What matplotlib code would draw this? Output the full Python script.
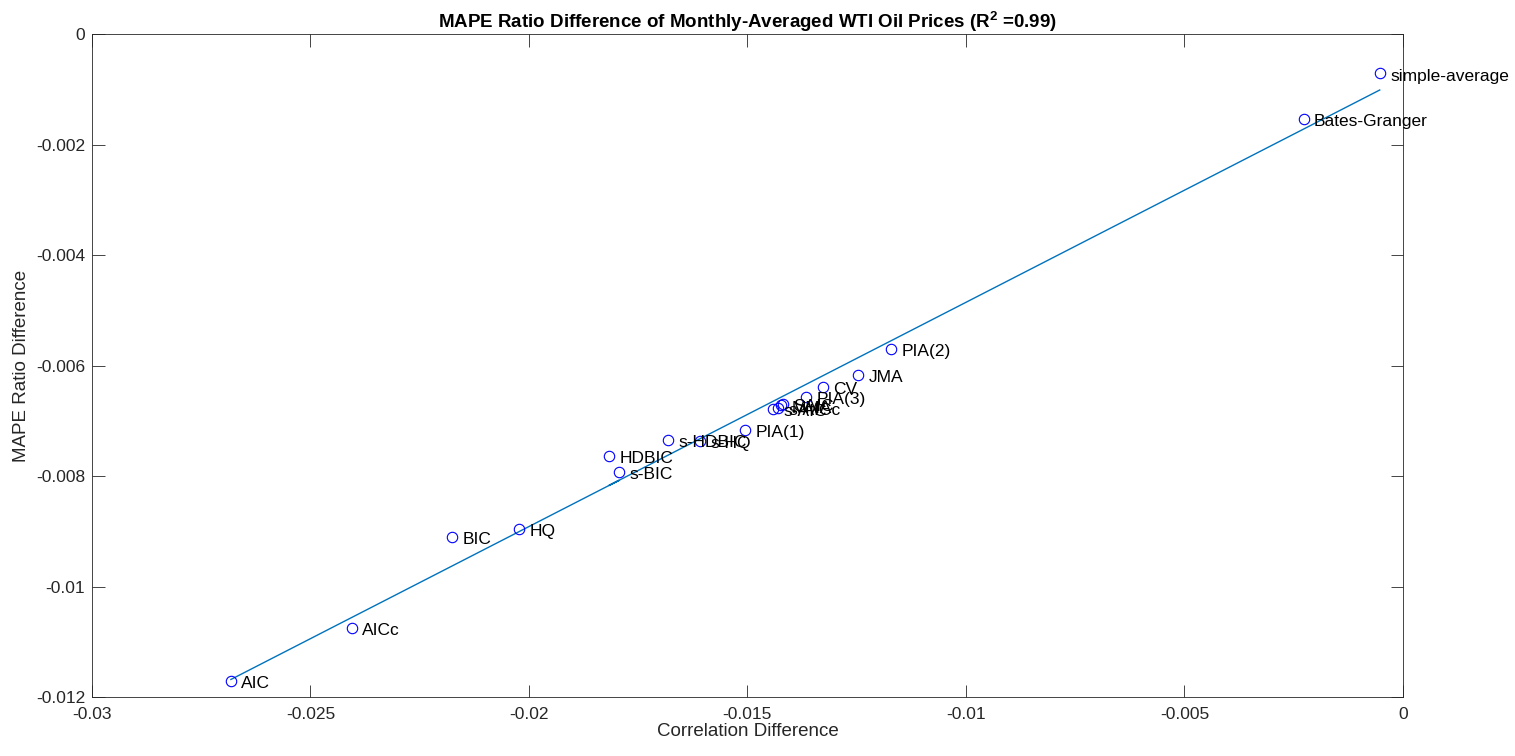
import matplotlib
matplotlib.use("Agg")
import matplotlib.pyplot as plt
import numpy as np

plt.rcParams["font.family"] = ["Liberation Sans", "DejaVu Sans"]
plt.rcParams["mathtext.fontset"] = "custom"
plt.rcParams["mathtext.rm"] = "Liberation Sans"
plt.rcParams["mathtext.bf"] = "Liberation Sans:bold"

# ── Data ─────────────────────────────────────────────────────────────────────
methods = ["AIC", "AICc", "BIC", "HQ", "s-BIC", "HDBIC", "s-HDBIC", "s-HQ",
           "PIA(1)", "s-AIC", "s-AICc", "MMA", "SAIC", "PIA(3)", "CV", "JMA",
           "PIA(2)", "Bates-Granger", "simple-average"]
corr_diff = [-0.02682, -0.02405, -0.02176, -0.02023, -0.01794, -0.01817,
             -0.01682, -0.01609, -0.01506, -0.01442, -0.01430, -0.01423,
             -0.01419, -0.01366, -0.01327, -0.01247, -0.01172, -0.00227,
             -0.00053]
mape_diff = [-0.01171, -0.01075, -0.00910, -0.00896, -0.00793, -0.00764,
             -0.00735, -0.00737, -0.00717, -0.00679, -0.00677, -0.00672,
             -0.00670, -0.00657, -0.00639, -0.00617, -0.00570, -0.00154,
             -0.00071]
r2_text = "0.99"

x = np.array(corr_diff)
y = np.array(mape_diff)
coef = np.polyfit(x, y, 1)
yfit = np.polyval(coef, x)

fig = plt.figure(figsize=(15.15, 7.56), dpi=100)
ax = fig.add_axes([0.0607, 0.078, 0.8653, 0.877])

ax.plot(x, yfit, color="#0072BD", lw=1.0, zorder=2)
ax.plot(x, y, "o", mfc="none", mec="#0000FF", ms=7.5, mew=0.8, zorder=3)

for xi, yi, name in zip(x, y, methods):
    ax.annotate(name, (xi, yi), xytext=(7.5, -2), textcoords="offset points",
                ha="left", va="center", fontsize=12.5, color="black")

ax.set_xlim(-0.03, 0)
ax.set_ylim(-0.012, 0)
ax.set_xticks(np.arange(-0.03, 0.0001, 0.005))
ax.set_yticks(np.arange(-0.012, 0.0001, 0.002))
ax.set_xticklabels([f"{v:g}" if abs(v) > 1e-12 else "0" for v in ax.get_xticks()])
ax.set_yticklabels([f"{v:g}" if abs(v) > 1e-12 else "0" for v in ax.get_yticks()])
ax.tick_params(direction="in", top=True, right=True, length=9, width=0.6,
               labelsize=12.5, colors="#262626")
ax.tick_params(axis="x", pad=7)
ax.tick_params(axis="y", pad=5)
for s in ax.spines.values():
    s.set_linewidth(0.6)
    s.set_color("#262626")

ax.set_xlabel("Correlation Difference", fontsize=13.5, color="#262626", labelpad=1)
ax.set_ylabel("MAPE Ratio Difference", fontsize=13.5, color="#262626", labelpad=4)
ax.set_title("MAPE Ratio Difference of Monthly-Averaged WTI Oil Prices "
             r"(R$^{\mathbf{2}}$ =" + r2_text + ")",
             fontsize=13.5, fontweight="bold", pad=4)

fig.savefig("out.png", dpi=100)
